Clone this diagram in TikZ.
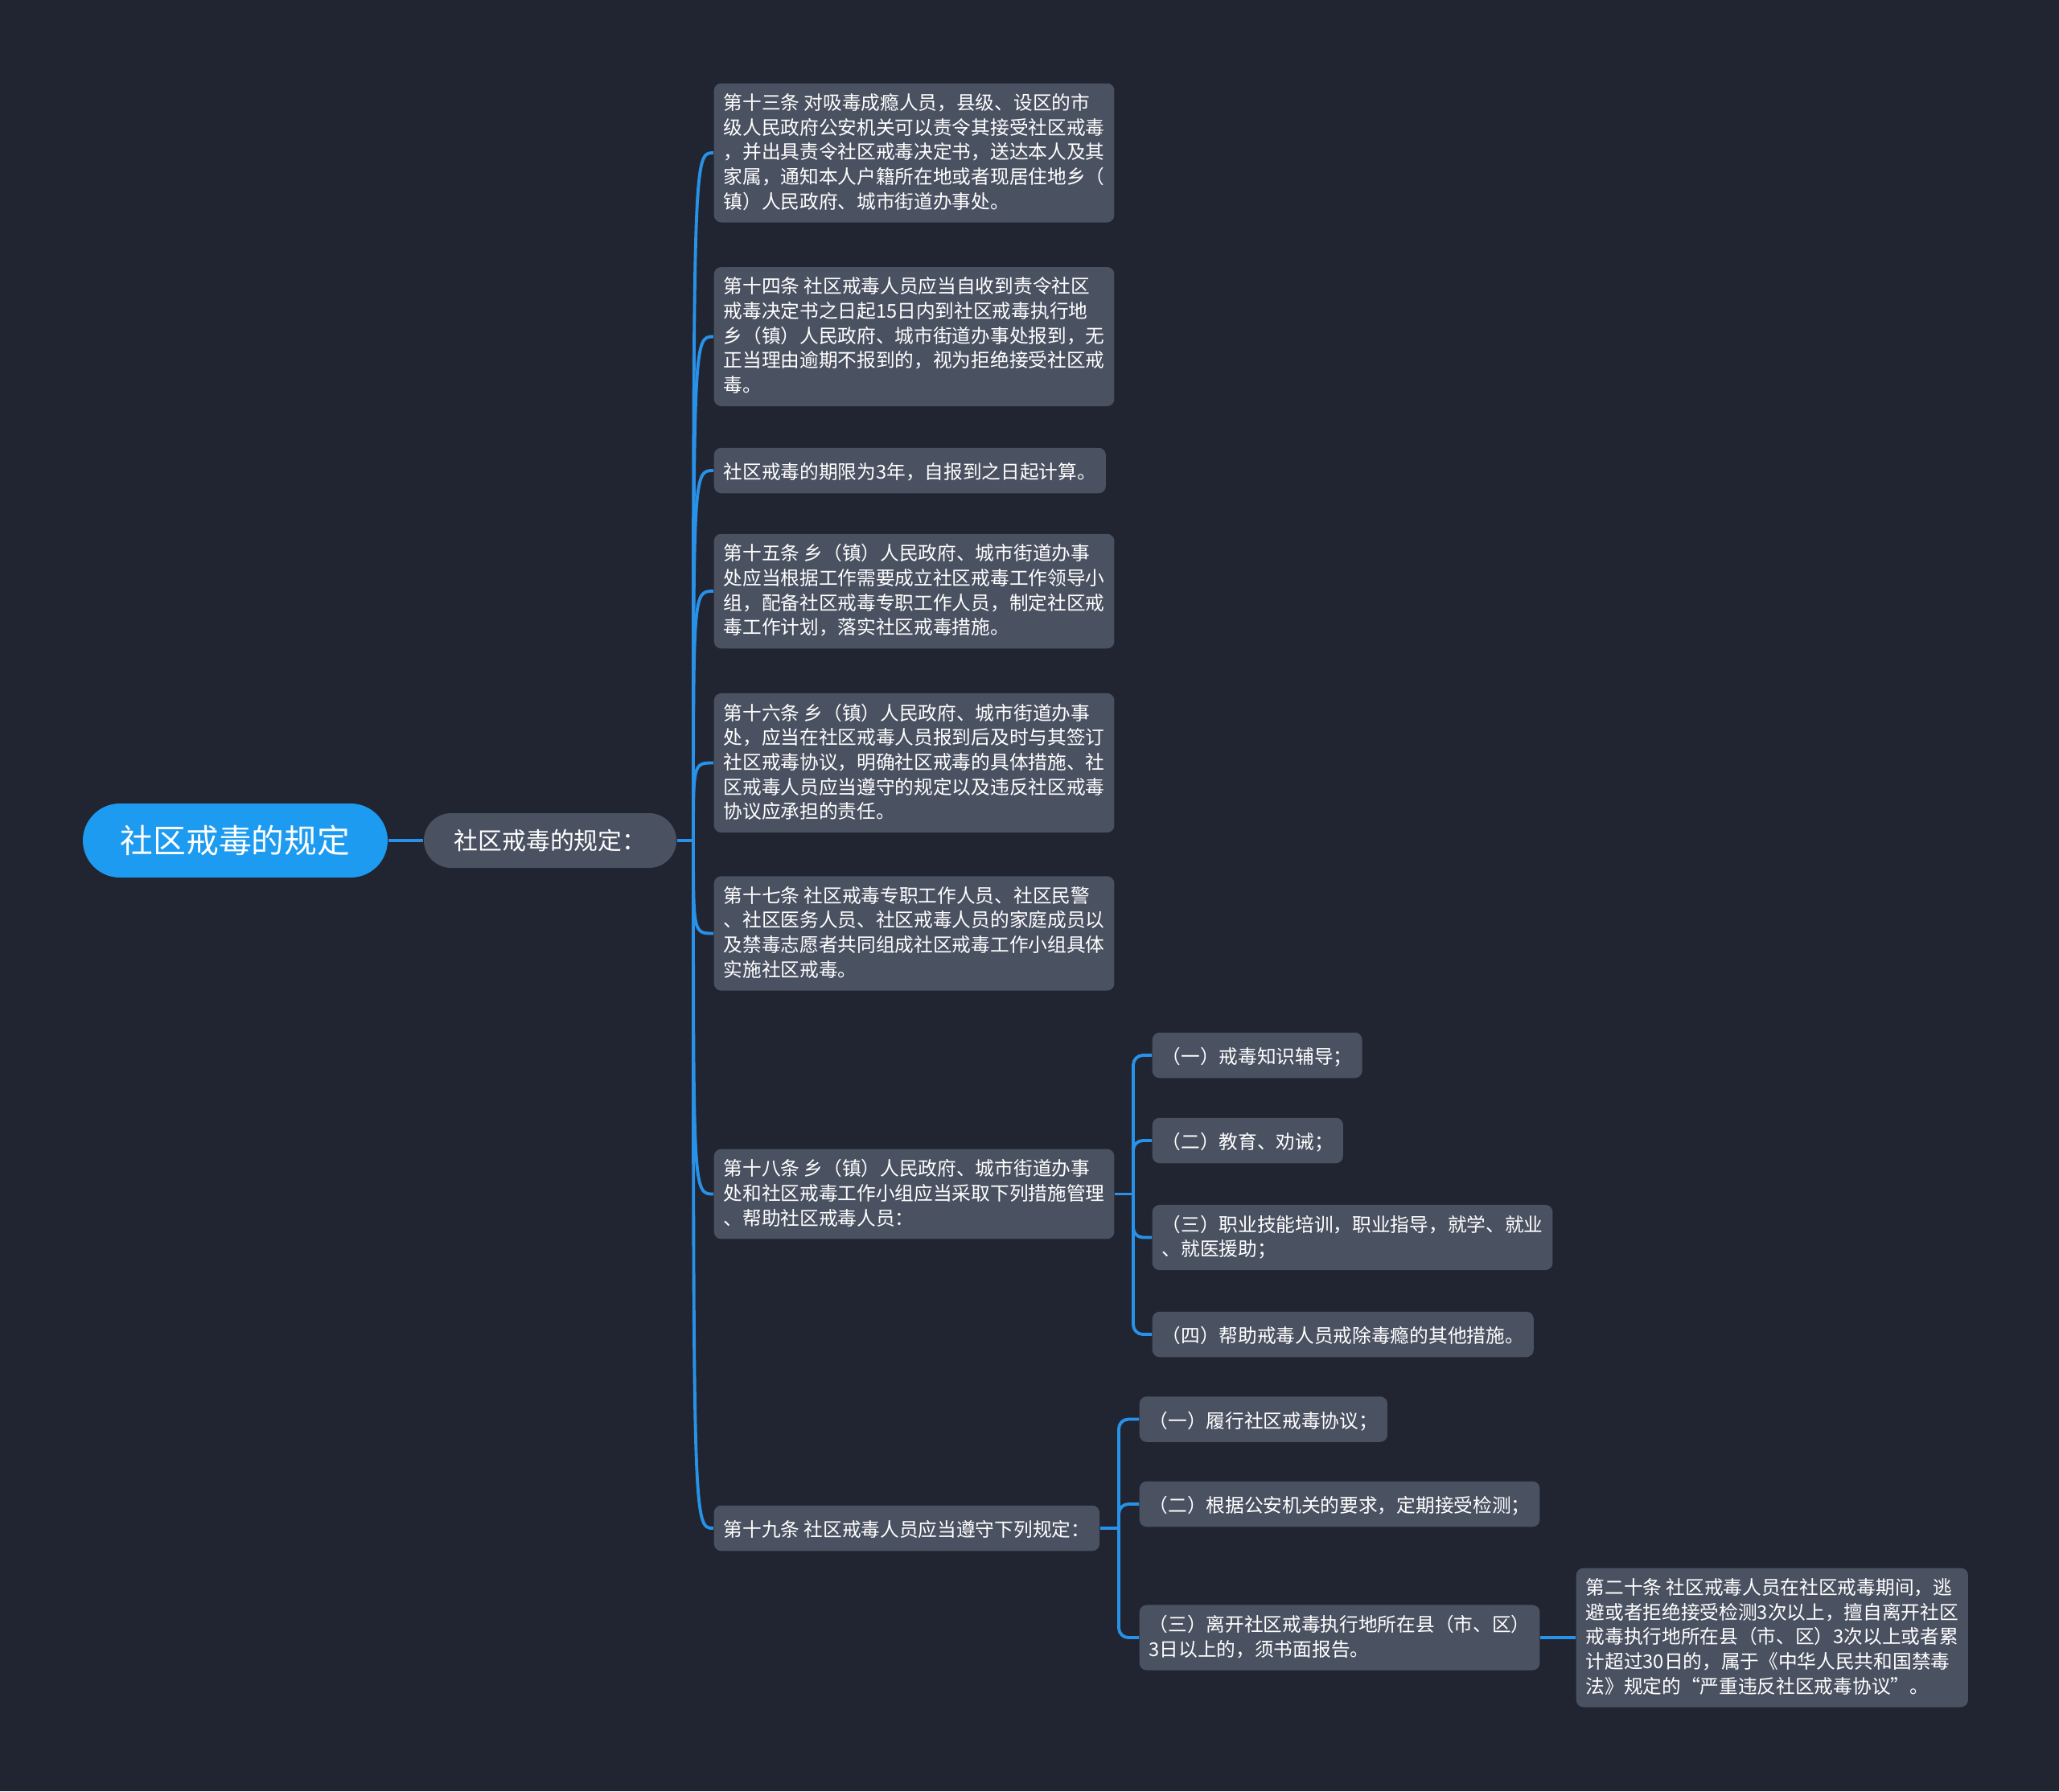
\documentclass[tikz,border=0pt]{standalone}
\usepackage{fontspec}
\setmainfont{Noto Sans CJK SC}
\usepackage{xcolor}
\usepackage{tikz}
\usetikzlibrary{positioning}

\definecolor{bgcol}{RGB}{33,37,49}
\definecolor{boxcol}{RGB}{74,81,97}
\definecolor{rootcol}{RGB}{28,155,240}
\definecolor{linkcol}{RGB}{40,146,232}

\newcommand\boxtopstrut{\rule{0pt}{7.5pt}}
\newcommand\boxbotstrut{\rule[-1.3pt]{0pt}{0pt}}

\begin{document}
\begin{tikzpicture}[
    topic/.style = {fill=rootcol, rounded corners=0.46cm, minimum width=3.79cm, minimum height=0.92cm, text=white, font=\fontsize{11.6pt}{14pt}\selectfont},
    sub/.style   = {fill=boxcol, rounded corners=0.34cm, minimum width=3.14cm, minimum height=0.68cm, text=white, font=\fontsize{8.5pt}{10pt}\selectfont},
    block/.style = {fill=boxcol, rounded corners=0.09cm, anchor=west, align=left, inner xsep=0.12cm, inner ysep=0.128cm, text=white,
                    font=\fontsize{6.74pt}{8.73pt}\selectfont, execute at begin node=\boxtopstrut, execute at end node=\boxbotstrut},
    link/.style  = {draw=linkcol, line width=1.1pt}
]

% ---- Background ----
\fill[bgcol] (0,0) rectangle (25.6,-22.27);

% ---- Root and subtopic ----
\node[topic] (root) at (2.925,-10.45) {社区戒毒的规定};
\node[sub]   (sub)  at (6.84,-10.45)  {社区戒毒的规定：};

% ---- Articles (middle column) ----
\node[block] (b13) at (8.87,-1.90)   {第十三条 对吸毒成瘾人员，县级、设区的市\\级人民政府公安机关可以责令其接受社区戒毒\\，并出具责令社区戒毒决定书，送达本人及其\\家属，通知本人户籍所在地或者现居住地乡（\\镇）人民政府、城市街道办事处。};
\node[block] (b14) at (8.87,-4.185)  {第十四条 社区戒毒人员应当自收到责令社区\\戒毒决定书之日起15日内到社区戒毒执行地\\乡（镇）人民政府、城市街道办事处报到，无\\正当理由逾期不报到的，视为拒绝接受社区戒\\毒。};
\node[block] (term) at (8.87,-5.85)  {社区戒毒的期限为3年，自报到之日起计算。};
\node[block] (b15) at (8.87,-7.35)   {第十五条 乡（镇）人民政府、城市街道办事\\处应当根据工作需要成立社区戒毒工作领导小\\组，配备社区戒毒专职工作人员，制定社区戒\\毒工作计划，落实社区戒毒措施。};
\node[block] (b16) at (8.87,-9.485)  {第十六条 乡（镇）人民政府、城市街道办事\\处，应当在社区戒毒人员报到后及时与其签订\\社区戒毒协议，明确社区戒毒的具体措施、社\\区戒毒人员应当遵守的规定以及违反社区戒毒\\协议应承担的责任。};
\node[block] (b17) at (8.87,-11.605) {第十七条 社区戒毒专职工作人员、社区民警\\、社区医务人员、社区戒毒人员的家庭成员以\\及禁毒志愿者共同组成社区戒毒工作小组具体\\实施社区戒毒。};
\node[block] (b18) at (8.87,-14.845) {第十八条 乡（镇）人民政府、城市街道办事\\处和社区戒毒工作小组应当采取下列措施管理\\、帮助社区戒毒人员：};
\node[block] (b19) at (8.87,-19.00)  {第十九条 社区戒毒人员应当遵守下列规定：};

% ---- Measures of article 18 ----
\node[block] (m1) at (14.32,-13.12)  {（一）戒毒知识辅导；};
\node[block] (m2) at (14.32,-14.18)  {（二）教育、劝诫；};
\node[block] (m3) at (14.32,-15.385) {（三）职业技能培训，职业指导，就学、就业\\、就医援助；};
\node[block] (m4) at (14.32,-16.59)  {（四）帮助戒毒人员戒除毒瘾的其他措施。};

% ---- Rules of article 19 ----
\node[block] (r1) at (14.16,-17.645) {（一）履行社区戒毒协议；};
\node[block] (r2) at (14.16,-18.70)  {（二）根据公安机关的要求，定期接受检测；};
\node[block] (r3) at (14.16,-20.36)  {（三）离开社区戒毒执行地所在县（市、区）\\3日以上的，须书面报告。};

% ---- Article 20 ----
\node[block] (b20) at (19.59,-20.36) {第二十条 社区戒毒人员在社区戒毒期间，逃\\避或者拒绝接受检测3次以上，擅自离开社区\\戒毒执行地所在县（市、区）3次以上或者累\\计超过30日的，属于《中华人民共和国禁毒\\法》规定的“严重违反社区戒毒协议”。};

% ---- Links ----
\coordinate (hub) at (8.62,-10.45);
\draw[link] (root) -- (sub);
\draw[link] (sub.east) -- (hub);
\draw[link] (hub) .. controls (hub |- b13.west) .. (b13.west);
\draw[link] (hub) .. controls (hub |- b14.west) .. (b14.west);
\draw[link] (hub) .. controls (hub |- term.west) .. (term.west);
\draw[link] (hub) .. controls (hub |- b15.west) .. (b15.west);
\draw[link] (hub) .. controls (hub |- b16.west) .. (b16.west);
\draw[link] (hub) .. controls (hub |- b17.west) .. (b17.west);
\draw[link] (hub) .. controls (hub |- b18.west) .. (b18.west);
\draw[link] (hub) .. controls (hub |- b19.west) .. (b19.west);

\coordinate (h18) at (14.09,-14.845);
\draw[link] (b18.east) -- (h18);
\draw[link, rounded corners=0.12cm] (h18) |- (m1.west);
\draw[link, rounded corners=0.12cm] (h18) |- (m2.west);
\draw[link, rounded corners=0.12cm] (h18) |- (m3.west);
\draw[link, rounded corners=0.12cm] (h18) |- (m4.west);

\coordinate (h19) at (13.91,-19.00);
\draw[link] (b19.east) -- (h19);
\draw[link, rounded corners=0.12cm] (h19) |- (r1.west);
\draw[link, rounded corners=0.12cm] (h19) |- (r2.west);
\draw[link, rounded corners=0.12cm] (h19) |- (r3.west);

\draw[link] (r3.east) -- (b20.west);

\end{tikzpicture}
\end{document}
